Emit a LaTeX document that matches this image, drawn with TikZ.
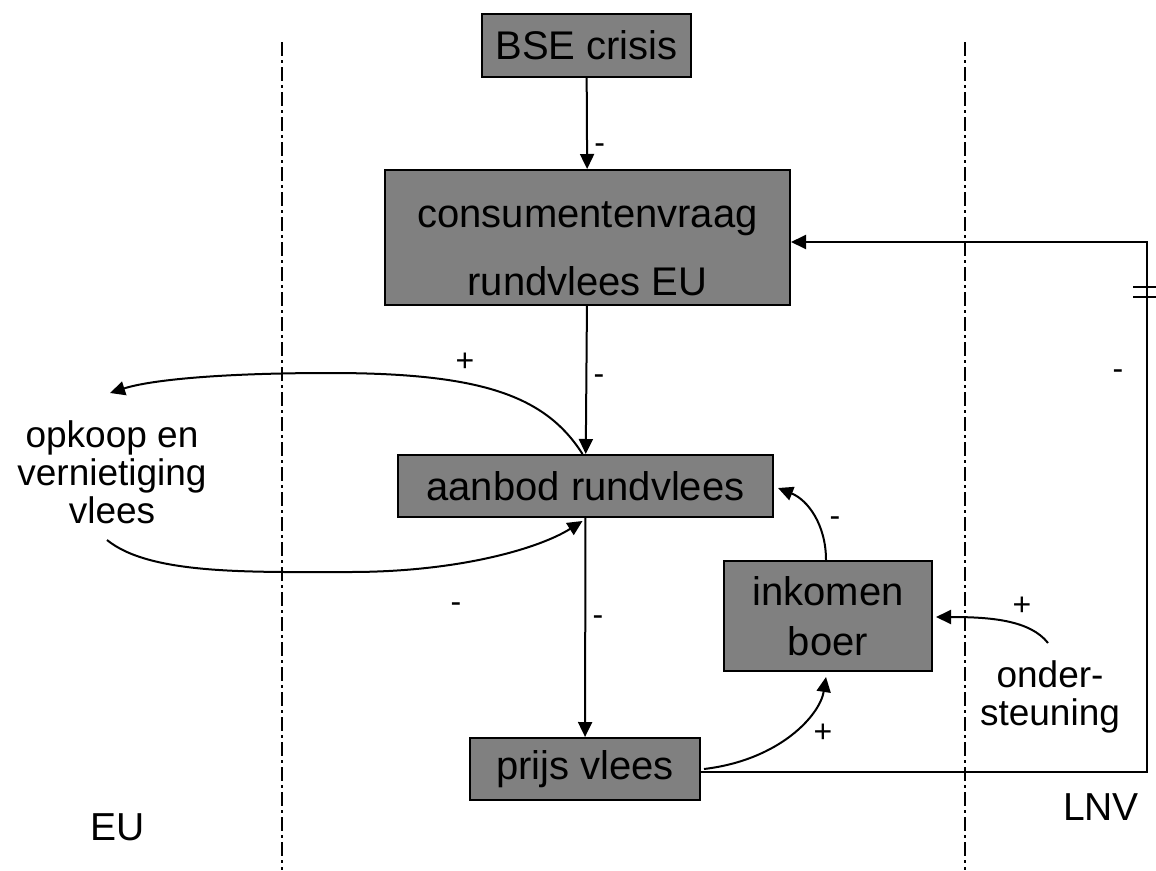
\documentclass[tikz,border=0pt]{standalone}
\usepackage{fontspec}
\setmainfont{Liberation Sans}
\usetikzlibrary{arrows.meta}
\definecolor{boxgray}{RGB}{128,128,128}
\tikzset{
  blok/.style={draw=black, fill=boxgray, line width=2pt, inner sep=0pt, align=center,
    font=\fontsize{40}{46}\selectfont},
  tekst/.style={align=center, font=\fontsize{37}{38}\selectfont},
  teken/.style={font=\fontsize{32}{34}\selectfont},
  pijl/.style={-{Triangle[length=15pt,width=14pt]}, line width=2pt},
  grens/.style={line width=2.8pt, dash pattern=on 14pt off 4pt on 3pt off 4pt}
}
\begin{document}
\begin{tikzpicture}[x=1pt, y=-1pt]
\useasboundingbox (0,0) rectangle (1156,870);
% grenzen EU / LNV
\draw [grens] (282,42) -- (282,870);
\draw [grens] (965,42) -- (965,870);
% blokken
\node [blok, minimum width=209pt, minimum height=63pt] (bse) at (586.5,45.5) {BSE crisis};
\node [blok, minimum width=405pt, minimum height=135pt] (vraag) at (587.5,237.5) {\rule{0pt}{48pt}consumentenvraag\\[22pt]rundvlees EU};
\node [blok, minimum width=375pt, minimum height=62pt] (aanbod) at (585.5,486) {aanbod rundvlees};
\node [blok, minimum width=208pt, minimum height=110pt] (inkomen) at (828,616) {inkomen\\[4pt]boer};
\node [blok, minimum width=230pt, minimum height=62pt] (prijs) at (585,769) {prijs vlees};
% losse teksten
\node [tekst] (opkoop) at (112,472) {opkoop en\\vernietiging\\vlees};
\node [tekst] (steun) at (1050,697) {onder-\\steuning};
\node [tekst, font=\fontsize{39}{40}\selectfont] (eu) at (118,827) {EU};
\node [tekst, font=\fontsize{39}{40}\selectfont] (lnv) at (1101,807) {LNV};
\coordinate (opkoopboven) at (110,393);
\coordinate (opkooponder) at (107,540);
\coordinate (steunbegin) at (1048,643);
\coordinate (hoekonder) at (1147,772);
\coordinate (hoekboven) at (1147,242);
% pijlen
\draw [pijl] (bse) -- (vraag) node [teken, pos=0.78, right=3pt] {-};
\draw [pijl] (vraag) -- (aanbod) node [teken, pos=0.5, right=3pt] {-};
\draw [pijl] (aanbod) -- (prijs) node [teken, pos=0.47, right=3pt] {-};
\draw [pijl] ([xshift=-3pt]aanbod.north) .. controls (545,395) and (480,373) .. (330,373)
  .. controls (220,373) and (150,380) .. (opkoopboven);
\draw [pijl] (opkooponder) .. controls (150,575) and (250,572) .. (350,572)
  .. controls (460,572) and (540,548) .. ([xshift=-3pt,yshift=-3pt]aanbod.south);
\draw [pijl] ([xshift=-2pt]inkomen.north) .. controls (826,525) and (808,500) .. ([xshift=4pt,yshift=-2pt]aanbod.east);
\draw [pijl] ([xshift=3pt]prijs.east) .. controls (780,760) and (820,715) .. ([xshift=-2pt,yshift=-5pt]inkomen.south);
\draw [pijl] (steunbegin) .. controls (1030,620) and (990,617) .. ([xshift=3pt,yshift=-1pt]inkomen.east);
\draw [pijl] ([yshift=-3pt]prijs.east) -- (hoekonder) -- (hoekboven) -- (vraag.east |- hoekboven);
% onderbreking
\draw [line width=2pt] (1133,287) -- (1156,287);
\draw [line width=2pt] (1133,297) -- (1156,297);
% tekens
\node [teken] at (465,362) {+};
\node [teken] at (456,608) {-};
\node [teken] at (835,522) {-};
\node [teken] at (823,733) {+};
\node [teken] at (1022,606) {+};
\node [teken] at (1118,375) {-};
\end{tikzpicture}
\end{document}
